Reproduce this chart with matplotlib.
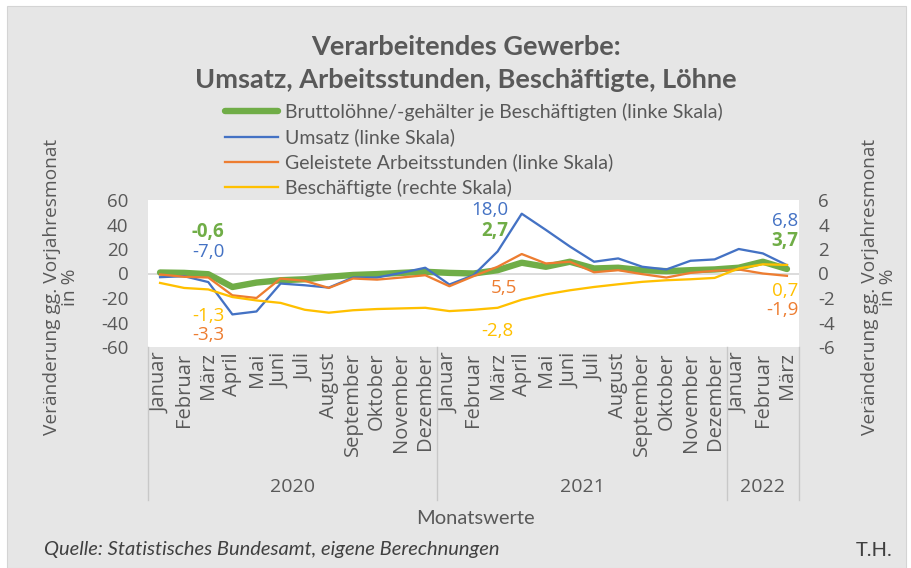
import numpy as np
import matplotlib
matplotlib.use("Agg")
import matplotlib.pyplot as plt
from matplotlib.patches import Rectangle
from matplotlib.lines import Line2D
from matplotlib.transforms import blended_transform_factory

plt.rcParams['axes.unicode_minus'] = False

# ---------------- data ----------------
months = ["Januar", "Februar", "März", "April", "Mai", "Juni", "Juli", "August",
          "September", "Oktober", "November", "Dezember",
          "Januar", "Februar", "März", "April", "Mai", "Juni", "Juli", "August",
          "September", "Oktober", "November", "Dezember",
          "Januar", "Februar", "März"]
years = ["2020", "2021", "2022"]
year_counts = [12, 12, 3]

loehne = [0.8, 0.5, -0.6, -11.0, -7.4, -5.5, -4.7, -2.7, -1.2, -0.5, 0.5, 1.4,
          0.5, 0.0, 2.7, 8.8, 5.5, 9.6, 4.1, 4.7, 2.7, 1.9, 2.7, 3.3,
          4.7, 9.6, 3.7]
umsatz = [-3.0, -2.2, -7.0, -33.4, -31.0, -8.2, -9.6, -11.5, -3.3, -3.3, 0.5, 4.7,
          -9.0, -1.4, 18.0, 48.8, 35.6, 22.0, 9.6, 12.3, 5.5, 3.3, 10.4, 11.5,
          20.0, 16.4, 6.8]
stunden = [-0.8, -2.7, -3.3, -17.8, -20.0, -4.1, -6.0, -11.8, -4.1, -5.0, -3.3, -1.4,
           -10.4, -2.2, 5.5, 15.9, 8.2, 9.6, 1.0, 2.7, -0.5, -3.3, 0.5, 2.2,
           3.3, 0.0, -1.9]
beschaeftigte = [-0.77, -1.18, -1.3, -1.92, -2.2, -2.4, -2.96, -3.2, -3.0, -2.9, -2.85, -2.8,
                 -3.07, -2.96, -2.8, -2.14, -1.7, -1.37, -1.1, -0.88, -0.68, -0.55, -0.47, -0.36,
                 0.41, 0.75, 0.7]

labels = ["Bruttolöhne/-gehälter je Beschäftigten (linke Skala)",
          "Umsatz (linke Skala)",
          "Geleistete Arbeitsstunden (linke Skala)",
          "Beschäftigte (rechte Skala)"]

# ---------------- styling ----------------
W, H = 911, 568
GRAY = "#595959"
C_GREEN, C_BLUE, C_ORANGE, C_YELLOW = "#70AD47", "#4472C4", "#ED7D31", "#FFC000"
TICKFONT = "Open Sans"
TEXTFONT = "Lato"

fig = plt.figure(figsize=(W / 100, H / 100), dpi=100)
fig.patch.set_facecolor("white")
fig.add_artist(Rectangle((7 / W, 0), (W - 12) / W, (H - 6) / H, transform=fig.transFigure,
                         facecolor="#e6e6e6", edgecolor="#d4d4d4", lw=0.8, zorder=-10))

ax = fig.add_axes([148 / W, 1 - 347 / H, (799 - 148) / W, (347 - 200) / H])
ax.set_facecolor("white")
ax2 = ax.twinx()

x = np.arange(len(months))
ax.set_xlim(-0.5, len(months) - 0.5)
ax.set_ylim(-60, 60)
ax2.set_ylim(-6, 6)
ax.set_yticks(np.arange(-60, 61, 20))
ax2.set_yticks(np.arange(-6, 7, 2))

for a in (ax, ax2):
    for s in a.spines.values():
        s.set_visible(False)

ax.axhline(0, color="#d9d9d9", lw=1.3, zorder=0)

lg, = ax.plot(x, loehne, color=C_GREEN, lw=4.6, solid_capstyle="round", solid_joinstyle="round", zorder=2)
lb, = ax.plot(x, umsatz, color=C_BLUE, lw=1.65, zorder=3)
lo, = ax.plot(x, stunden, color=C_ORANGE, lw=1.65, zorder=4)
ly, = ax2.plot(x, beschaeftigte, color=C_YELLOW, lw=1.65, zorder=2)

ax.tick_params(axis="y", length=0, pad=14, labelsize=13.5, labelcolor=GRAY)
ax2.tick_params(axis="y", length=0, pad=14, labelsize=13.5, labelcolor=GRAY)
ax.set_xticks(x)
ax.set_xticklabels(months, rotation=90, va="top", ha="center")
ax.tick_params(axis="x", length=0, pad=4, labelsize=14.5, labelcolor=GRAY)
for t in ax.get_xticklabels() + ax.get_yticklabels() + ax2.get_yticklabels():
    t.set_fontfamily(TICKFONT)

# category group labels and separators
tb = blended_transform_factory(ax.transData, ax.transAxes)
sep_y = (347 - 500) / 147
start = 0
bounds = [-0.5]
for yr, n in zip(years, year_counts):
    ctr = start + (n - 1) / 2
    ax.text(ctr, (347 - 487) / 147, yr, transform=tb, ha="center", va="center",
            fontsize=14, color=GRAY, family=TICKFONT)
    start += n
    bounds.append(start - 0.5)
for bx in bounds:
    ax.add_line(Line2D([bx, bx], [0, sep_y], transform=tb, color="#c8c8c8", lw=1.0, clip_on=False))

# data labels
def fmt(v):
    return f"{v:.1f}".replace(".", ",")

ann = [
    # (series, index, x, y_left_scale, ha, color, bold)
    (loehne, 2, 2.0, 34.2, "center", C_GREEN, True),
    (umsatz, 2, 2.0, 17.8, "center", C_BLUE, False),
    (beschaeftigte, 2, 2.0, -35.1, "center", C_YELLOW, False),
    (stunden, 2, 2.0, -49.9, "center", C_ORANGE, False),
    (umsatz, 14, 14.45, 51.5, "right", C_BLUE, False),
    (loehne, 14, 14.45, 35.0, "right", C_GREEN, True),
    (stunden, 14, 14.25, -11.5, "center", C_ORANGE, False),
    (beschaeftigte, 14, 14.0, -46.6, "center", C_YELLOW, False),
    (umsatz, 26, 26.48, 43.0, "right", C_BLUE, False),
    (loehne, 26, 26.48, 26.5, "right", C_GREEN, True),
    (beschaeftigte, 26, 26.48, -14.5, "right", C_YELLOW, False),
    (stunden, 26, 26.48, -30.0, "right", C_ORANGE, False),
]
for ser, i, px, py, ha, col, bold in ann:
    ax.text(px, py, fmt(ser[i]), ha=ha, va="center", color=col, fontsize=13.5,
            fontweight="bold" if bold else "normal", family=TICKFONT, zorder=6)

# axis titles
for xc in (61, 879):
    fig.text(xc / W, 1 - 287 / H, "Veränderung gg. Vorjahresmonat\nin %", rotation=90,
             ha="center", va="center", multialignment="center", fontsize=13.8, color=GRAY,
             family=TICKFONT, linespacing=1.0)
fig.text(475 / W, 1 - 518 / H, "Monatswerte", ha="center", va="center", fontsize=14.5,
         color=GRAY, family=TEXTFONT)

# title
fig.text(466 / W, 1 - 47 / H, "Verarbeitendes Gewerbe:", ha="center", va="center",
         fontsize=19.5, fontweight="bold", color=GRAY, family=TEXTFONT)
fig.text(466 / W, 1 - 80 / H, "Umsatz, Arbeitsstunden, Beschäftigte, Löhne", ha="center",
         va="center", fontsize=19.5, fontweight="bold", color=GRAY, family=TEXTFONT)

# legend
leg = fig.legend(handles=[lg, lb, lo, ly], labels=labels, loc="upper left",
                 bbox_to_anchor=(225 / W, 1 - 103 / H), frameon=False,
                 prop={"family": TEXTFONT, "size": 14}, handlelength=2.7,
                 handletextpad=0.4, labelspacing=0.38, borderpad=0, borderaxespad=0)
for t in leg.get_texts():
    t.set_color(GRAY)

# footer
fig.text(44 / W, 1 - 550 / H, "Quelle: Statistisches Bundesamt, eigene Berechnungen",
         ha="left", va="center", fontsize=14.5, style="italic", color="#404040", family=TEXTFONT)
fig.text(892 / W, 1 - 550 / H, "T.H.", ha="right", va="center", fontsize=14.5,
         color="#404040", family=TEXTFONT)

fig.savefig("out.png", dpi=100, facecolor=fig.get_facecolor())
